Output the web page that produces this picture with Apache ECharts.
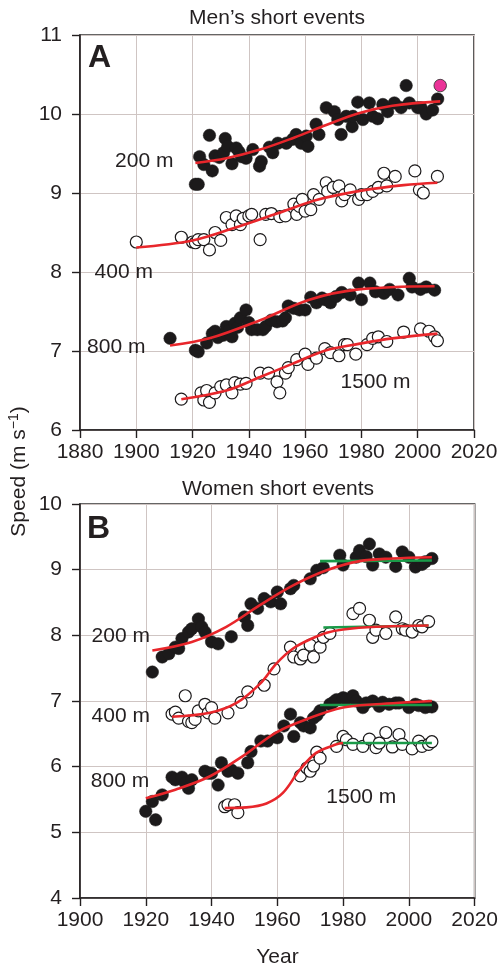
<!DOCTYPE html>
<html>
<head>
<meta charset="utf-8">
<script src="https://cdn.jsdelivr.net/npm/echarts@6/dist/echarts.min.js"></script>
<style>
html,body{margin:0;padding:0;background:#fff;}
#c{width:501px;height:966px;}
</style>
</head>
<body>
<div id="c"></div>
<script>
// ---- Panel A: men's events (year, speed m/s) ----
const men200 = [[1921,9.11],[1922,9.11],[1922.5,9.46],[1924,9.36],[1926,9.73],[1927,9.28],[1928,9.47],[1929.5,9.45],[1931,9.51],[1931.6,9.69],[1932.5,9.59],[1934,9.37],[1935.5,9.57],[1936.5,9.52],[1937.3,9.46],[1939,9.44],[1941.4,9.55],[1943.8,9.34],[1944.4,9.40],[1947.3,9.58],[1948.5,9.51],[1950.3,9.63],[1953.3,9.63],[1955.6,9.68],[1956.8,9.74],[1958.6,9.63],[1960.4,9.72],[1961,9.59],[1963.9,9.87],[1964.9,9.74],[1967.5,10.08],[1970.4,10.03],[1971.6,9.93],[1972.8,9.74],[1974.6,9.97],[1976.7,9.84],[1977,9.97],[1978.7,10.15],[1980.5,9.93],[1982.8,10.14],[1984,9.97],[1985.8,9.94],[1987.6,10.12],[1989.3,10.03],[1991.7,10.14],[1994.1,10.08],[1995.9,10.36],[1997,10.14],[2000,10.08],[2001.2,10.08],[2003,10.0],[2005.3,10.05],[2007.1,10.19]];
const men200Record = [[2008,10.36]];
const men200Fit = [[1921,9.38],[1932,9.44],[1944,9.55],[1956,9.70],[1967.5,9.86],[1979,10.01],[1991,10.105],[2008,10.16]];

const men400 = [[1900,8.38],[1916,8.44],[1920,8.38],[1921,8.37],[1922,8.41],[1924,8.41],[1926,8.28],[1928,8.50],[1930,8.40],[1932,8.69],[1934,8.60],[1935.5,8.71],[1937,8.60],[1938,8.68],[1940,8.71],[1941,8.73],[1944,8.41],[1946,8.73],[1948,8.74],[1951,8.70],[1953,8.71],[1956,8.86],[1957,8.73],[1958,8.83],[1959,8.92],[1960,8.77],[1962,8.79],[1963,8.98],[1965,8.92],[1967.5,9.13],[1968,9.02],[1970,9.07],[1972,9.09],[1973,8.90],[1974,8.98],[1976,9.04],[1979,8.92],[1980,8.98],[1982,8.98],[1984,9.02],[1986,9.07],[1988,9.25],[1989,9.09],[1992,9.21],[1999,9.28],[2000.6,9.04],[2002,9.0],[2007,9.21]];
const men400Fit = [[1900,8.31],[1920,8.40],[1935,8.56],[1950,8.74],[1965,8.92],[1980,9.03],[1995,9.10],[2007,9.13]];

const men800 = [[1912,7.16],[1921,7.01],[1922,6.99],[1925,7.10],[1927,7.22],[1928,7.25],[1929,7.17],[1931,7.20],[1932,7.31],[1933,7.26],[1934,7.18],[1935,7.35],[1936,7.30],[1937,7.42],[1939,7.52],[1940,7.36],[1941,7.27],[1943,7.27],[1945,7.27],[1946,7.31],[1948,7.39],[1950,7.37],[1952,7.38],[1953,7.42],[1954,7.57],[1956,7.54],[1958,7.52],[1960,7.52],[1962,7.68],[1964,7.61],[1966,7.67],[1967,7.65],[1969,7.61],[1971,7.69],[1973,7.74],[1976,7.71],[1979,7.86],[1980,7.65],[1983,7.86],[1985,7.75],[1988,7.73],[1990,7.78],[1993,7.71],[1997,7.92],[1998,7.81],[2001,7.78],[2003,7.81],[2006,7.77]];
const men800Fit = [[1912,7.07],[1926,7.16],[1944,7.39],[1961.5,7.65],[1979,7.78],[2006,7.82]];

const men1500 = [[1916,6.39],[1923,6.47],[1924,6.38],[1925,6.50],[1926,6.35],[1928,6.47],[1930,6.55],[1932,6.57],[1934,6.47],[1935,6.60],[1937,6.58],[1939,6.59],[1944,6.72],[1947,6.72],[1950,6.61],[1951,6.47],[1953,6.72],[1954,6.79],[1957,6.89],[1960,6.96],[1961,6.83],[1964,6.91],[1967,7.03],[1969,6.98],[1972,6.94],[1974,7.08],[1975,7.08],[1978,6.96],[1982,7.08],[1984,7.16],[1986,7.18],[1989,7.12],[1995,7.24],[2001,7.28],[2004,7.25],[2006,7.18],[2007,7.13]];
const men1500Fit = [[1916,6.39],[1932,6.50],[1944,6.67],[1955.6,6.84],[1967.5,7.01],[1979,7.09],[1991,7.16],[2007,7.22]];

// ---- Panel B: women's events ----
const women200 = [[1922,7.44],[1925,7.67],[1927,7.72],[1929,7.82],[1930,7.80],[1931,7.95],[1933,8.05],[1934,8.10],[1936,8.25],[1937,8.13],[1938,8.05],[1940,7.90],[1942,7.87],[1946,7.98],[1950,8.28],[1951,8.15],[1952,8.48],[1954,8.41],[1956,8.56],[1958,8.51],[1960,8.66],[1961,8.48],[1964,8.71],[1965,8.76],[1970,8.86],[1972,8.99],[1974,9.03],[1979,9.22],[1980,9.07],[1984,9.19],[1985,9.29],[1987,9.20],[1988,9.39],[1989,9.07],[1991,9.24],[1993,9.19],[1996,9.05],[1998,9.27],[2000,9.19],[2002,9.04],[2004,9.08],[2005,9.12],[2007,9.17]];
const women200Fit = [[1922,7.77],[1934,7.90],[1944.5,8.13],[1954.7,8.46],[1964.8,8.76],[1975,8.99],[1985,9.13],[1995,9.17],[2007,9.19]];
const women200Plateau = [[1973,9.13],[2007,9.14]];

const women400 = [[1928,6.80],[1929,6.83],[1930,6.74],[1932,7.08],[1933,6.69],[1934,6.67],[1935,6.72],[1936,6.85],[1938,6.95],[1939,6.82],[1940,6.90],[1941,6.74],[1945,6.82],[1949,6.98],[1951,7.14],[1956,7.24],[1959,7.49],[1964,7.82],[1965,7.67],[1967,7.64],[1968,7.70],[1970,7.85],[1971,7.67],[1973,7.82],[1974,7.97],[1976,8.03],[1983,8.33],[1985,8.41],[1988,8.23],[1989,7.97],[1990,8.08],[1993,8.03],[1996,8.28],[1998,8.10],[1999,8.08],[2001,8.05],[2003,8.15],[2004,8.13],[2006,8.21]];
const women400Fit = [[1928,6.76],[1939.5,6.82],[1947.6,6.97],[1954.7,7.26],[1959.7,7.57],[1964.8,7.80],[1970,7.94],[1975,8.04],[1980,8.09],[1990,8.13],[2006,8.15]];
const women400Plateau = [[1974,8.12],[2006,8.15]];

const women800 = [[1920,5.32],[1922,5.47],[1923,5.19],[1925,5.57],[1928,5.84],[1929,5.80],[1931,5.84],[1932,5.75],[1933,5.67],[1934,5.80],[1938,5.93],[1939,5.90],[1940,5.90],[1942,5.72],[1943,6.06],[1945,5.93],[1946,5.95],[1948,5.90],[1951,6.06],[1952,6.23],[1955,6.39],[1957,6.39],[1960,6.44],[1962,6.62],[1964,6.80],[1965,6.46],[1967,6.67],[1968,6.62],[1970,6.59],[1971,6.74],[1972,6.78],[1973,6.85],[1976,6.95],[1977,6.98],[1978,7.02],[1980,7.05],[1981,7.03],[1983,7.08],[1984,7.0],[1986,6.90],[1987,6.97],[1989,7.00],[1991,6.92],[1992,6.98],[1994,6.95],[1996,6.97],[1997,6.97],[2000,6.90],[2002,6.95],[2003,6.93],[2005,6.90],[2006,6.92],[2007,6.91]];
const women800Fit = [[1920,5.52],[1929,5.65],[1939.4,5.85],[1949.5,6.16],[1959.6,6.52],[1969.8,6.74],[1980,6.90],[1990,6.95],[2007,7.0]];
const women800Plateau = [[1973,6.94],[2007,6.94]];

const women1500 = [[1944,5.39],[1945,5.42],[1947,5.42],[1948,5.30],[1967,5.86],[1969,5.98],[1970,5.93],[1971,6.01],[1972,6.22],[1973,6.13],[1978,6.31],[1980,6.46],[1981,6.41],[1983,6.34],[1986,6.31],[1988,6.42],[1990,6.29],[1991,6.36],[1993,6.52],[1995,6.30],[1997,6.49],[1998,6.34],[2001,6.27],[2003,6.39],[2004,6.31],[2006,6.34],[2007,6.38]];
const women1500Fit = [[1944,5.37],[1950.6,5.38],[1956.7,5.44],[1961.7,5.60],[1966.8,5.95],[1971.8,6.21],[1978,6.34],[1980,6.36]];
const women1500Plateau = [[1978,6.36],[2007,6.36]];

// ---- axis ticks ----
const xTicksA = [1880,1900,1920,1940,1960,1980,2000,2020];
const yTicksA = [6,7,8,9,10,11];
const xTicksB = [1900,1920,1940,1960,1980,2000,2020];
const yTicksB = [4,5,6,7,8,9,10];

const FONT = 'Liberation Sans, Arial, Helvetica, sans-serif';
const INK = '#231f20';
const RED = '#e8262b';
const GREEN = '#1a9a48';

function xAxis(grid, ticks){
  return {type:'value', gridIndex:grid, min:ticks[0], max:ticks[ticks.length-1], interval:ticks[1]-ticks[0],
    axisLine:{show:true, onZero:false, lineStyle:{color:INK, width:1.6}},
    axisTick:{show:true, inside:false, length:8, lineStyle:{color:INK, width:1.4}},
    axisLabel:{margin:12, color:INK, fontSize:21, fontFamily:FONT, formatter:v=>String(v)},
    splitLine:{show:true, lineStyle:{color:'#cfc5c3', width:1}}};
}
function yAxis(grid, ticks){
  return {type:'value', gridIndex:grid, min:ticks[0], max:ticks[ticks.length-1], interval:1,
    axisLine:{show:true, onZero:false, lineStyle:{color:INK, width:1.6}},
    axisTick:{show:true, inside:false, length:8, lineStyle:{color:INK, width:1.4}},
    axisLabel:{margin:18, color:INK, fontSize:21, fontFamily:FONT, formatter:v=>String(v)},
    splitLine:{show:true, lineStyle:{color:'#cfc5c3', width:1}}};
}
function filled(data, g){
  return {type:'scatter', xAxisIndex:g, yAxisIndex:g, data, symbolSize:12.5, z:2,
    itemStyle:{color:'#1c1a1b', borderColor:'#1c1a1b', borderWidth:0.5, opacity:1}, silent:true};
}
function open(data, g){
  return {type:'scatter', xAxisIndex:g, yAxisIndex:g, data, symbolSize:12, z:2,
    itemStyle:{color:'#ffffff', borderColor:'#1c1a1b', borderWidth:1.2, opacity:1}, silent:true};
}
function fit(data, g){
  return {type:'line', xAxisIndex:g, yAxisIndex:g, data, smooth:0.35, showSymbol:false, z:4,
    lineStyle:{color:RED, width:2.6}, silent:true};
}
function plateau(data, g){
  return {type:'line', xAxisIndex:g, yAxisIndex:g, data, showSymbol:false, z:3,
    lineStyle:{color:GREEN, width:2.6}, silent:true};
}
function label(text, x, y, size, bold, align){
  return {type:'text', x, y, z:10, style:{text, fill:INK, fontSize:size, fontFamily:FONT,
    fontWeight: bold ? 'bold' : 'normal', align: align || 'center', verticalAlign:'middle'}};
}

const chart = echarts.init(document.getElementById('c'), null, {renderer:'canvas'});
chart.setOption({
  backgroundColor:'#ffffff',
  animation:false,
  grid:[
    {left:80, right:27, top:35, bottom:536, show:true, borderColor:'#333', borderWidth:1.6, backgroundColor:'transparent'},
    {left:80, right:26, top:504, bottom:68, show:true, borderColor:'#333', borderWidth:1.6, backgroundColor:'transparent'}
  ],
  xAxis:[xAxis(0, xTicksA), xAxis(1, xTicksB)],
  yAxis:[yAxis(0, yTicksA), yAxis(1, yTicksB)],
  series:[
    filled(men200,0), open(men400,0), filled(men800,0), open(men1500,0),
    fit(men200Fit,0), fit(men400Fit,0), fit(men800Fit,0), fit(men1500Fit,0),
    {type:'scatter', xAxisIndex:0, yAxisIndex:0, data:men200Record, symbolSize:12.5, z:5,
      itemStyle:{color:'#e6007e', borderColor:'#2a2a2a', borderWidth:1}, silent:true},
    filled(women200,1), open(women400,1), filled(women800,1), open(women1500,1),
    fit(women200Fit,1), fit(women400Fit,1), fit(women800Fit,1), fit(women1500Fit,1),
    plateau(women200Plateau,1), plateau(women400Plateau,1), plateau(women800Plateau,1), plateau(women1500Plateau,1)
  ],
  graphic:[
    label("Men\u2019s short events", 277, 18.5, 21, false),
    label("Women short events", 278, 489, 21, false),
    label("Year", 277.5, 957, 21, false),
    label("A", 88, 58.5, 32, true, 'left'),
    label("B", 87, 528.7, 32, true, 'left'),
    label("200 m", 144.2, 160.8, 21, false),
    label("400 m", 123.8, 272.5, 21, false),
    label("800 m", 116.3, 347, 21, false),
    label("1500 m", 375.5, 382.5, 21, false),
    label("200 m", 120.8, 636.7, 21, false),
    label("400 m", 120.8, 715.8, 21, false),
    label("800 m", 120, 780.8, 21, false),
    label("1500 m", 361.3, 797.5, 21, false),
    {type:'text', x:19.5, y:471.5, rotation:Math.PI/2, z:10,
      style:{text:'{a|Speed (m s}{b|\u22121}{a|)}', align:'center', verticalAlign:'middle',
        rich:{
          a:{fontSize:21, fontFamily:FONT, fill:INK, color:INK, lineHeight:24},
          b:{fontSize:14, fontFamily:FONT, fill:INK, color:INK, lineHeight:24, verticalAlign:'top', padding:[0,0,10,0]}
        }}}
  ]
});
</script>
</body>
</html>
